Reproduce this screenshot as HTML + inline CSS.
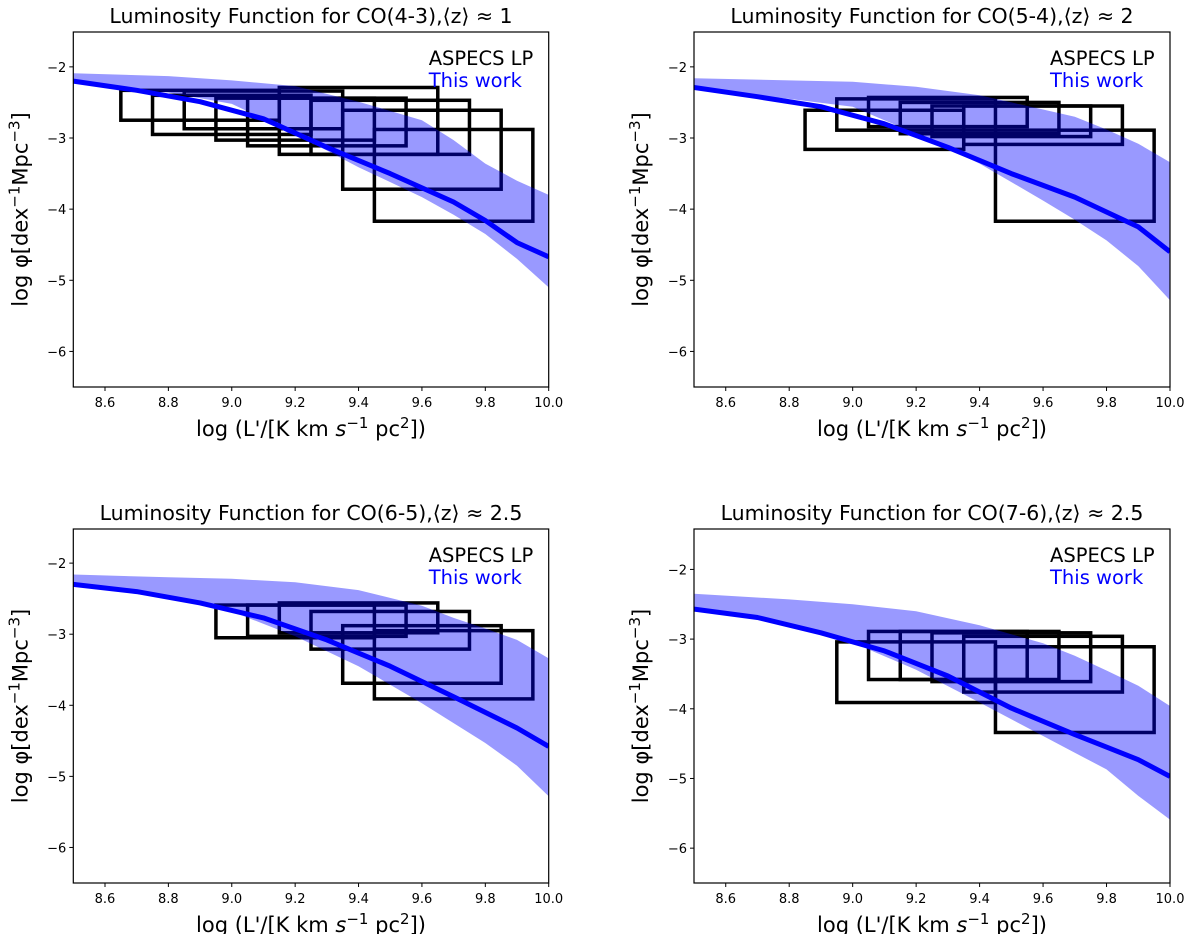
<!DOCTYPE html>
<html><head><meta charset="utf-8">
<style>
html,body{margin:0;padding:0;background:#fff;}
svg{display:block;font-family:"DejaVu Sans","Liberation Sans",sans-serif;}
</style></head>
<body>
<svg id="fig" width="1200" height="934" viewBox="0 0 1200 934"></svg>
<script>
// ---- data ----
const titles = ["Luminosity Function for CO(4-3),⟨z⟩ ≈ 1","Luminosity Function for CO(5-4),⟨z⟩ ≈ 2","Luminosity Function for CO(6-5),⟨z⟩ ≈ 2.5","Luminosity Function for CO(7-6),⟨z⟩ ≈ 2.5"];
const xTicks = [8.6,8.8,9.0,9.2,9.4,9.6,9.8,10.0];
const xTickLabels = ["8.6","8.8","9.0","9.2","9.4","9.6","9.8","10.0"];
const yTicks = [-2,-3,-4,-5,-6];
const yTickLabels = ["\u22122","\u22123","\u22124","\u22125","\u22126"];
const yMaxes = [-1.51,-1.51,-1.52,-1.42];

const lineX = [8.5,8.7,8.9,9.1,9.3,9.5,9.7,9.8,9.9,10.0];
const lineY1 = [-2.2,-2.33,-2.49,-2.73,-3.13,-3.5,-3.9,-4.16,-4.47,-4.67];
const lineY2 = [-2.29,-2.42,-2.56,-2.8,-3.13,-3.5,-3.83,-4.04,-4.25,-4.6];
const lineY3 = [-2.3,-2.4,-2.56,-2.77,-3.08,-3.45,-3.88,-4.1,-4.32,-4.58];
const lineY4 = [-2.57,-2.69,-2.91,-3.17,-3.53,-3.99,-4.37,-4.55,-4.73,-4.97];

const bandX = [8.5,8.8,9.0,9.2,9.4,9.6,9.7,9.8,9.9,10.0];
const bandUp1 = [-2.09,-2.13,-2.19,-2.27,-2.49,-2.75,-3.03,-3.36,-3.6,-3.8];
const bandLo1 = [-2.22,-2.36,-2.52,-2.94,-3.41,-3.83,-4.08,-4.35,-4.7,-5.1];
const bandUp2 = [-2.16,-2.19,-2.21,-2.28,-2.4,-2.6,-2.7,-2.88,-3.08,-3.34];
const bandLo2 = [-2.3,-2.45,-2.56,-2.94,-3.36,-3.88,-4.15,-4.44,-4.8,-5.28];
const bandUp3 = [-2.16,-2.2,-2.22,-2.27,-2.38,-2.6,-2.77,-2.92,-3.08,-3.34];
const bandLo3 = [-2.3,-2.5,-2.68,-3.03,-3.45,-3.97,-4.25,-4.53,-4.85,-5.28];
const bandUp4 = [-2.35,-2.43,-2.5,-2.6,-2.8,-3.06,-3.24,-3.45,-3.67,-3.96];
const bandLo4 = [-2.57,-2.8,-3.05,-3.44,-3.91,-4.39,-4.63,-4.87,-5.25,-5.59];

const boxL1 = [8.65,8.75,8.85,8.95,9.05,9.15,9.25,9.35,9.45];
const boxTop1 = [-2.33,-2.4,-2.34,-2.44,-2.44,-2.29,-2.47,-2.61,-2.88];
const boxBot1 = [-2.75,-2.95,-2.87,-3.03,-3.11,-3.23,-3.23,-3.72,-4.17];
const boxL2 = [8.85,8.95,9.05,9.15,9.25,9.35,9.45];
const boxTop2 = [-2.61,-2.45,-2.43,-2.5,-2.55,-2.55,-2.89];
const boxBot2 = [-3.16,-2.89,-2.84,-2.94,-2.98,-3.09,-4.17];
const boxL3 = [8.95,9.05,9.15,9.25,9.35,9.45];
const boxTop3 = [-2.59,-2.59,-2.56,-2.68,-2.88,-2.95];
const boxBot3 = [-3.05,-3.03,-2.98,-3.21,-3.69,-3.91];
const boxL4 = [8.95,9.05,9.15,9.25,9.35,9.45];
const boxTop4 = [-3.04,-2.89,-2.89,-2.91,-2.96,-3.11];
const boxBot4 = [-3.91,-3.58,-3.58,-3.61,-3.76,-4.34];
const boxWidth = 0.5;

const panels = [
 {x0:73.3,x1:548.7,y0:32,y1:387,line:lineY1,up:bandUp1,lo:bandLo1,bl:boxL1,bt:boxTop1,bb:boxBot1},
 {x0:694,x1:1170,y0:32,y1:387,line:lineY2,up:bandUp2,lo:bandLo2,bl:boxL2,bt:boxTop2,bb:boxBot2},
 {x0:73.3,x1:548.7,y0:529,y1:883,line:lineY3,up:bandUp3,lo:bandLo3,bl:boxL3,bt:boxTop3,bb:boxBot3},
 {x0:694,x1:1170,y0:529,y1:883,line:lineY4,up:bandUp4,lo:bandLo4,bl:boxL4,bt:boxTop4,bb:boxBot4}
];

const NS="http://www.w3.org/2000/svg";
const svg=document.getElementById('fig');
function mk(tag,attrs,parent,text){const e=document.createElementNS(NS,tag);for(const k in attrs)e.setAttribute(k,attrs[k]);if(text!==undefined)e.textContent=text;(parent||svg).appendChild(e);return e;}

panels.forEach((p,i)=>{
  const g=mk('g',{});
  
  
  const ymin=-6.5,ymax=yMaxes[i];
  const sx=v=>p.x0+(v-8.5)/(10-8.5)*(p.x1-p.x0);
  const sy=v=>p.y1-(v-ymin)/(ymax-ymin)*(p.y1-p.y0);
  const cid='clip'+i;
  const defs=mk('defs',{},g);
  const cp=mk('clipPath',{id:cid},defs);
  mk('rect',{x:p.x0,y:p.y0,width:p.x1-p.x0,height:p.y1-p.y0},cp);
  const plot=mk('g',{'clip-path':'url(#'+cid+')'},g);
  p.bl.forEach((l,j)=>{
    const r=mk('rect',{x:sx(l),y:sy(p.bt[j]),width:sx(l+boxWidth)-sx(l),height:sy(p.bb[j])-sy(p.bt[j]),fill:'none',stroke:'#000','stroke-width':3.5},plot);
    
    
  });
  let d='';
  bandX.forEach((x,j)=>{d+=(j?'L':'M')+sx(x).toFixed(1)+','+sy(p.up[j]).toFixed(1);});
  for(let j=bandX.length-1;j>=0;j--)d+='L'+sx(bandX[j]).toFixed(1)+','+sy(p.lo[j]).toFixed(1);
  const band=mk('path',{d:d+'Z',fill:'rgba(0,0,255,0.4)',stroke:'none'},plot);
  
  
  let ld='';
  lineX.forEach((x,j)=>{ld+=(j?'L':'M')+sx(x).toFixed(1)+','+sy(p.line[j]).toFixed(1);});
  const ln=mk('path',{d:ld,fill:'none',stroke:'#0000ff','stroke-width':5,'stroke-linejoin':'round'},plot);
  
  
  const fr=mk('rect',{x:p.x0,y:p.y0,width:p.x1-p.x0,height:p.y1-p.y0,fill:'none',stroke:'#000','stroke-width':1.2},g);
  
  
  xTicks.forEach((t,j)=>{
    const x=sx(t);
    mk('line',{x1:x,x2:x,y1:p.y1,y2:p.y1+4,stroke:'#000','stroke-width':1},g);
    const tl=mk('text',{x:x,y:p.y1+20,'text-anchor':'middle','font-size':13},g,xTickLabels[j]);
    
    
  });
  yTicks.forEach((t,j)=>{
    const y=sy(t);
    mk('line',{x1:p.x0-4,x2:p.x0,y1:y,y2:y,stroke:'#000','stroke-width':1},g);
    const tl=mk('text',{x:p.x0-7,y:y+5,'text-anchor':'end','font-size':13},g,yTickLabels[j]);
    
    
  });
  const cx=(p.x0+p.x1)/2;
  const tt=mk('text',{x:cx,y:p.y0-9,'text-anchor':'middle','font-size':20.5},g,titles[i]);
  
  
  const xl=mk('text',{x:cx,y:p.y1+49,'text-anchor':'middle','font-size':21},g);
  xl.innerHTML="log (L'/[K km <tspan font-style='italic'>s</tspan><tspan dy='-8' font-size='15'>\u22121</tspan><tspan dy='8'> pc</tspan><tspan dy='-8' font-size='15'>2</tspan><tspan dy='8'>])</tspan>";
  
  
  const ycx=p.x0-46, ycy=(p.y0+p.y1)/2;
  const yl=mk('text',{x:ycx,y:ycy,'text-anchor':'middle','font-size':21,transform:'rotate(-90 '+ycx+' '+ycy+')'},g);
  yl.innerHTML="log \u03c6[dex<tspan dy='-8' font-size='15'>\u22121</tspan><tspan dy='8'>Mpc</tspan><tspan dy='-8' font-size='15'>\u22123</tspan><tspan dy='8'>]</tspan>";
  
  
  const lg1=mk('text',{x:p.x1-120,y:p.y0+33,'font-size':19.5,fill:'#000'},g,'ASPECS LP');
  
  
  const lg2=mk('text',{x:p.x1-120,y:p.y0+55,'font-size':19.5,fill:'#0000ff'},g,'This work');
  
  
});
</script>
</body></html>
